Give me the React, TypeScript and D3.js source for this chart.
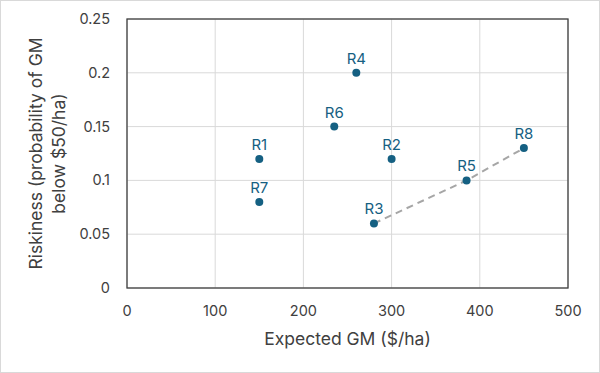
import React from 'react';
import * as d3 from 'd3';

const labels = ['R1', 'R2', 'R3', 'R4', 'R5', 'R6', 'R7', 'R8'];
const expectedGM = [150, 300, 280, 260, 385, 235, 150, 450];
const riskiness = [0.12, 0.12, 0.06, 0.2, 0.1, 0.15, 0.08, 0.13];
// frontier line through these points
const frontier = ['R3', 'R5', 'R8'];
const xTicks = [0, 100, 200, 300, 400, 500];
const yTicks = [0, 0.05, 0.1, 0.15, 0.2, 0.25];

const width = 600;
const height = 373;
const margin = { top: 19, right: 32, bottom: 85, left: 127 };
const font = 'Inter, "Open Sans", sans-serif';

const App = () => {
    const innerWidth = width - margin.left - margin.right;
    const innerHeight = height - margin.top - margin.bottom;

    const xScale = d3.scaleLinear().domain([0, 500]).range([0, innerWidth]);
    const yScale = d3.scaleLinear().domain([0, 0.25]).range([innerHeight, 0]);

    const points = labels.map((l, i) => ({ label: l, x: expectedGM[i], y: riskiness[i] }));
    const frontierPts = frontier.map(f => points.find(p => p.label === f));

    const line = d3.line()
        .x(d => xScale(d.x))
        .y(d => yScale(d.y));

    return (
        <svg width={width} height={height} style={{ position: 'absolute', left: 0, top: 0 }}>
            <rect x={0.5} y={0.5} width={width - 1} height={height - 1} fill="#fff" stroke="#d9d9d9" />
            <g transform={`translate(${margin.left},${margin.top})`}>
                {xTicks.map(t => (
                    <line key={'gx' + t} x1={xScale(t)} x2={xScale(t)} y1={0} y2={innerHeight} stroke="#d9d9d9" strokeWidth={1} />
                ))}
                {yTicks.map(t => (
                    <line key={'gy' + t} x1={0} x2={innerWidth} y1={yScale(t)} y2={yScale(t)} stroke="#d9d9d9" strokeWidth={1} />
                ))}
                <rect x={0} y={0} width={innerWidth} height={innerHeight} fill="none" stroke="#404040" strokeWidth={1.3} />

                {xTicks.map(t => (
                    <text key={'tx' + t} x={xScale(t)} y={innerHeight + 28} textAnchor="middle"
                        fontFamily={font} fontSize={14.5} fill="#404040">{t}</text>
                ))}
                {yTicks.map(t => (
                    <text key={'ty' + t} x={-17} y={yScale(t)} dy="0.35em" textAnchor="end"
                        fontFamily={font} fontSize={14.5} fill="#404040">{t}</text>
                ))}

                <path d={line(frontierPts)} fill="none" stroke="#a6a6a6" strokeWidth={2} strokeDasharray="7,5" />

                {points.map(p => (
                    <g key={p.label}>
                        <circle cx={xScale(p.x)} cy={yScale(p.y)} r={4} fill="#156082" />
                        <text x={xScale(p.x)} y={yScale(p.y) - 9} textAnchor="middle"
                            fontFamily={font} fontSize={15} fill="#156082">{p.label}</text>
                    </g>
                ))}

                <text x={innerWidth / 2} y={innerHeight + 57} textAnchor="middle"
                    fontFamily={font} fontSize={17.5} fill="#404040">Expected GM ($/ha)</text>
            </g>
            <g transform={`translate(42,${margin.top + innerHeight / 2}) rotate(-90)`}>
                <text x={0} y={0} textAnchor="middle" fontFamily={font} fontSize={17.5} fill="#404040">
                    <tspan x={0} dy="0">Riskiness (probability of GM</tspan>
                    <tspan x={0} dy="23">below $50/ha)</tspan>
                </text>
            </g>
        </svg>
    );
};

export default App;
